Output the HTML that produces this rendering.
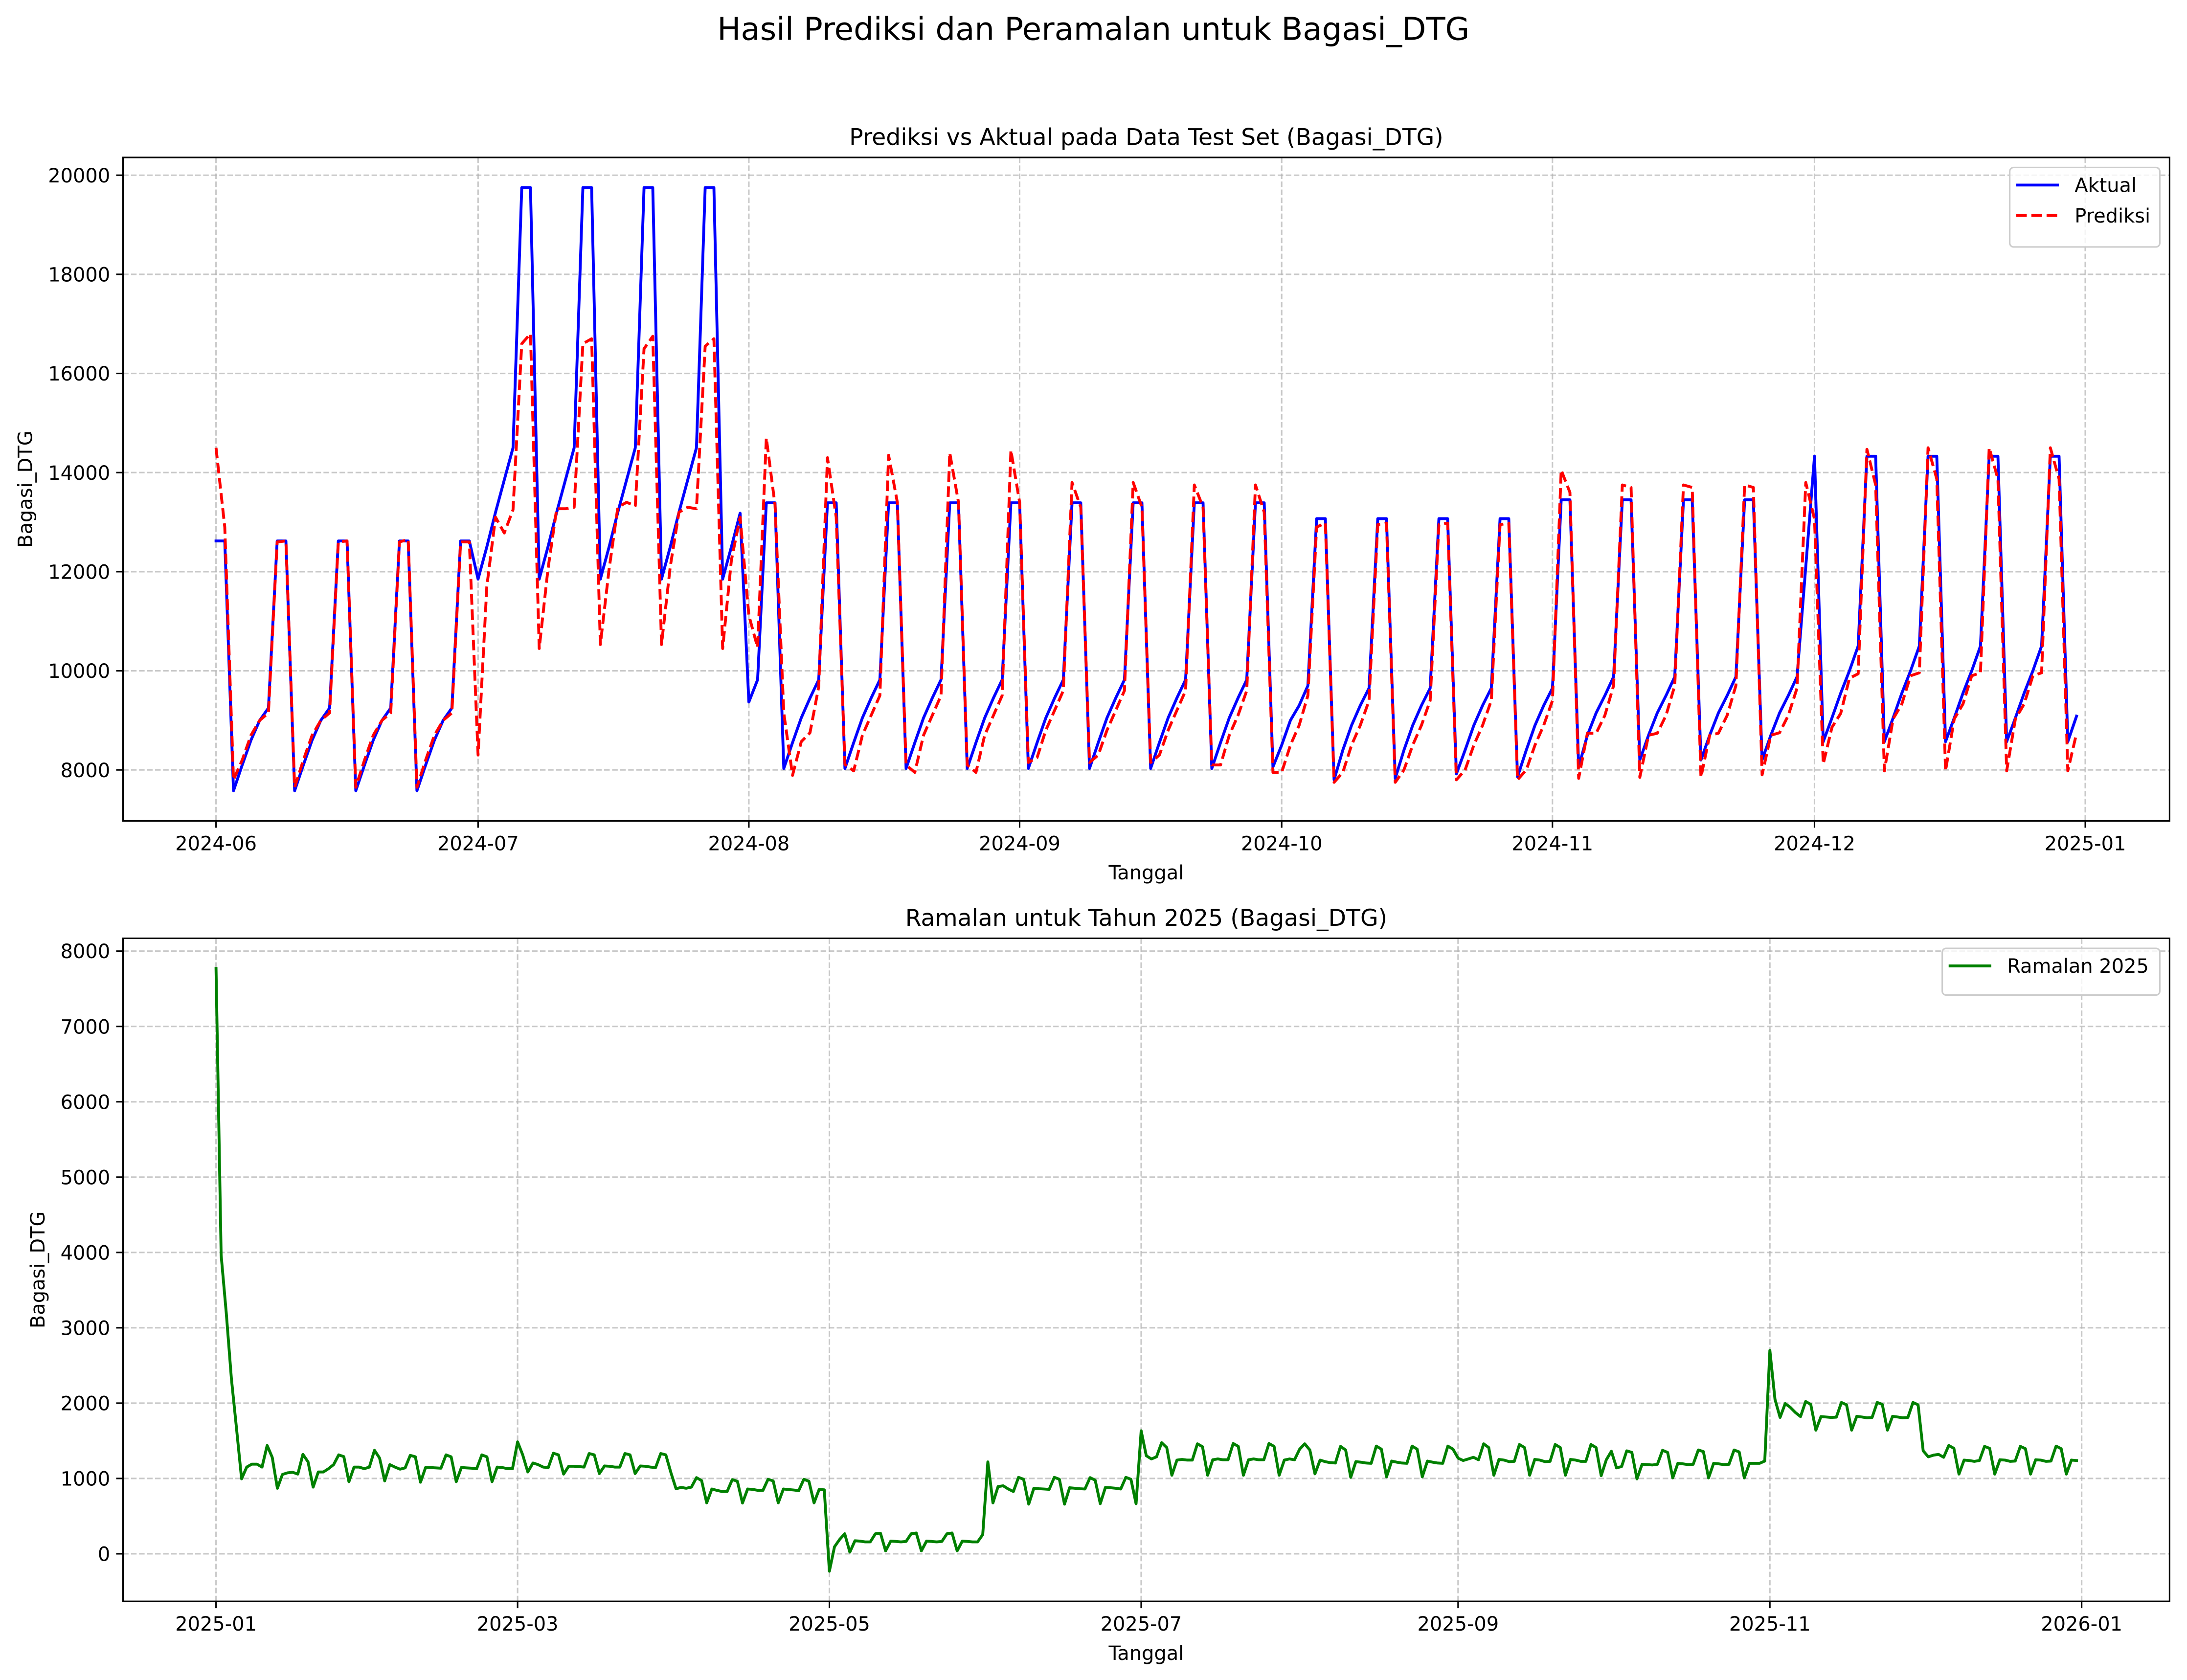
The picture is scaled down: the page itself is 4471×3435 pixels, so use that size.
<!DOCTYPE html>
<html>
<head>
<meta charset="utf-8">
<style>
html,body{margin:0;padding:0;background:#fff;}
svg{display:block;}
text{font-family:"DejaVu Sans","Liberation Sans",sans-serif;fill:#000;}
</style>
</head>
<body>
<svg id="fig" xmlns="http://www.w3.org/2000/svg" width="4471" height="3435" viewBox="0 0 1568.2 1204.8">
<rect x="0" y="0" width="1568.2" height="1204.8" fill="#fff"/>
<text x="784" y="28.6" font-size="22.5" text-anchor="middle">Hasil Prediksi dan Peramalan untuk Bagasi_DTG</text>
<g id="top"></g>
<g id="bot"></g>
</svg>
<script>
// ---------- Top chart data (daily, 2024-06-01 .. 2024-12-31) ----------
const topStart = Date.UTC(2024,5,1);
const topTicks = ["2024-06","2024-07","2024-08","2024-09","2024-10","2024-11","2024-12","2025-01"];
const topYTicks = [8000,10000,12000,14000,16000,18000,20000];
const aktual = [
12620,12620,
7580,8100,8600,9000,9250,12620,12620,
7580,8100,8600,9000,9250,12620,12620,
7580,8100,8600,9000,9250,12620,12620,
7580,8100,8600,9000,9250,12620,12620,
11850,12500,13200,13850,14500,19750,19750,
11850,12500,13200,13850,14500,19750,19750,
11850,12500,13200,13850,14500,19750,19750,
11850,12500,13200,13850,14500,19750,19750,
11850,12500,13180,9370,9820,13390,13390,
8030,8550,9050,9450,9820,13390,13390,
8030,8550,9050,9450,9820,13390,13390,
8030,8550,9050,9450,9820,13390,13390,
8030,8550,9050,9450,9820,13390,13390,
8030,8550,9050,9450,9820,13390,13390,
8030,8550,9050,9450,9820,13390,13390,
8030,8550,9050,9450,9820,13390,13390,
8030,8550,9050,9450,9820,13390,13390,
8060,8500,9000,9300,9700,13070,13070,
7800,8400,8900,9300,9650,13070,13070,
7830,8400,8900,9300,9650,13070,13070,
7920,8400,8900,9300,9650,13070,13070,
7860,8400,8900,9300,9650,13450,13450,
8060,8700,9150,9500,9880,13450,13450,
8200,8700,9150,9500,9880,13450,13450,
8200,8700,9150,9500,9880,13450,13450,
8200,8700,9150,9500,9880,12100,14330,
8570,9050,9550,10000,10500,14330,14330,
8570,9050,9550,10000,10500,14330,14330,
8570,9050,9550,10000,10500,14330,14330,
8570,9050,9550,10000,10500,14330,14330,
8570,9085];
const prediksi = [
14500,12900,
7800,8200,8700,9000,9150,12600,12620,
7650,8200,8700,9000,9150,12600,12620,
7650,8200,8700,9000,9150,12600,12650,
7650,8200,8700,9000,9150,12600,12600,
8300,11700,13100,12780,13250,16600,16800,
10450,12050,13270,13270,13300,16600,16700,
10530,12050,13300,13400,13330,16500,16750,
10530,12100,13200,13300,13270,16550,16700,
10450,12230,13100,11120,10470,14700,13340,
9150,7890,8570,8750,9680,14300,13100,
8110,7980,8700,9100,9500,14350,13400,
8100,7950,8700,9100,9500,14400,13400,
8100,7950,8700,9100,9500,14450,13400,
8150,8250,8800,9200,9600,13800,13300,
8150,8300,8800,9200,9600,13800,13300,
8150,8300,8800,9200,9600,13750,13300,
8100,8100,8700,9100,9600,13750,13200,
7950,7950,8500,8900,9500,12900,12980,
7750,7950,8500,8900,9400,12950,12980,
7750,8000,8500,8900,9400,12950,12980,
7800,8000,8500,8900,9400,12950,12980,
7800,8000,8500,8900,9400,14050,13600,
7830,8740,8740,9100,9700,13750,13700,
7850,8700,8740,9100,9700,13750,13700,
7850,8700,8740,9100,9700,13750,13700,
7900,8700,8750,9100,9650,13800,13060,
8120,8860,9140,9850,9940,14470,13750,
7980,9030,9330,9900,9960,14500,13870,
7980,9030,9330,9900,9960,14500,13870,
7980,9030,9330,9900,9960,14500,13870,
7980,8740];

// ---------- Bottom chart data (daily, 2025-01-01 .. 2025-12-31) ----------
const botStart = Date.UTC(2025,0,1);
const botTicks = ["2025-01","2025-03","2025-05","2025-07","2025-09","2025-11","2026-01"];
const botYTicks = [0,1000,2000,3000,4000,5000,6000,7000,8000];
const ramalan = [
7770,3965,3200,2330,1670,995,
1151,1190,1190,1151,
1438,1280,870,1054,1075,1082,1058,
1320,1220,885,1086,1086,1130,1183,
1313,1290,957,1151,1151,1130,1151,
1374,1270,968,1184,1151,1123,1140,
1307,1287,950,1145,1145,1140,1136,
1313,1287,957,1145,1140,1136,1130,
1313,1287,957,1151,1145,1130,1130,
1486,1313,1086,1205,1184,1151,1145,
1335,1313,1058,1162,1162,1158,1151,
1331,1313,1065,1166,1162,1151,1151,
1331,1313,1065,1166,1162,1151,1145,
1331,1313,1076,864,881,870,885,
1011,972,676,860,842,827,827,
985,963,674,860,855,842,842,
989,968,676,860,853,847,838,
989,963,676,855,849,
-231,93,190,266,22,173,168,
158,158,266,272,39,168,164,
158,164,266,276,39,168,164,
158,164,266,276,39,168,164,
158,158,255,
1220,676,892,903,860,827,1015,
989,659,870,864,860,855,1015,
989,659,877,870,864,860,1011,
978,665,881,877,870,860,1015,
989,665,
1633,1302,1259,1287,1475,1410,1043,
1244,1253,1244,1244,1460,1421,1043,
1248,1259,1248,1248,1464,1426,1043,
1248,1259,1248,1248,1464,1426,1043,
1244,1259,1248,1389,1460,1378,1061,
1244,1223,1210,1205,1426,1378,1015,
1223,1216,1205,1201,1430,1389,1022,
1231,1216,1205,1201,1430,1389,1022,
1231,1216,1205,1201,1430,1389,
1270,1238,1259,1281,1248,1460,1410,
1043,1253,1244,1223,1227,1451,1410,
1043,1253,1244,1223,1227,1451,1410,
1043,1253,1244,1227,1227,1451,1410,
1037,1248,1361,1140,1158,1367,1346,
994,1188,1184,1179,1188,1374,1346,
1007,1201,1194,1184,1188,1378,1356,
1007,1201,1194,1184,1188,1378,1352,
1007,1201,1201,1201,1231,
2700,2050,1810,1994,1944,1875,1821,
2022,1983,1641,1821,1816,1810,1814,
2009,1978,1641,1825,1816,1805,1810,
2009,1983,1641,1825,1816,1805,1810,
2009,1978,
1367,1287,1309,1320,1281,1438,1400,
1058,1244,1238,1227,1238,1426,1400,
1058,1248,1244,1227,1231,1426,1395,
1058,1248,1244,1227,1231,1430,1395,
1058,1244,1238];

const NS = "http://www.w3.org/2000/svg";
const DAY = 86400000;
function mk(tag, attrs, parent){
  const e = document.createElementNS(NS, tag);
  for (const k in attrs) e.setAttribute(k, attrs[k]);
  if (parent) parent.appendChild(e);
  return e;
}
function tickDay(label, start){
  const p = label.split("-");
  return (Date.UTC(+p[0], +p[1]-1, 1) - start)/DAY;
}

function drawAxes(g, o){
  const L = 88.2, R = 1555.7, T = o.top, B = o.bottom;
  const nDays = o.series[0].vals.length;
  const span = nDays - 1;
  const xmin = -0.05*span, xmax = span*1.05;
  let vmin = Infinity, vmax = -Infinity;
  o.series.forEach(s => s.vals.forEach(v => { if (v<vmin) vmin=v; if (v>vmax) vmax=v; }));
  const r = vmax - vmin;
  const ymin = vmin - 0.05*r, ymax = vmax + 0.05*r;
  const xs = d => L + (d - xmin)/(xmax - xmin)*(R - L);
  const ys = v => B - (v - ymin)/(ymax - ymin)*(B - T);

  // grid + ticks
  o.xticks.forEach(lbl => {
    const d = tickDay(lbl, o.start);
    const x = xs(d);
    const gl = mk("line", {x1:x, x2:x, y1:T, y2:B, stroke:"#b0b0b0", "stroke-opacity":"0.7", "stroke-width":"1.09", "stroke-dasharray":"4.0 1.75"}, g);
    
    
    const tk = mk("line", {x1:x, x2:x, y1:B, y2:B+4.9, stroke:"#000", "stroke-width":"1.09"}, g);
    
    
    const t = mk("text", {x:x, y:B+21, "font-size":"14", "text-anchor":"middle"}, g);
    t.textContent = lbl;
    
    
  });
  o.yticks.forEach(v => {
    const y = ys(v);
    const gl = mk("line", {x1:L, x2:R, y1:y, y2:y, stroke:"#b0b0b0", "stroke-opacity":"0.7", "stroke-width":"1.09", "stroke-dasharray":"4.0 1.75"}, g);
    
    
    const tk = mk("line", {x1:L-4.9, x2:L, y1:y, y2:y, stroke:"#000", "stroke-width":"1.09"}, g);
    
    
    const t = mk("text", {x:L-9.2, y:y+5.1, "font-size":"14", "text-anchor":"end"}, g);
    t.textContent = String(v);
    
    
  });

  // series
  o.series.forEach(s => {
    let d = "";
    s.vals.forEach((v,i) => { d += (i ? "L" : "M") + xs(i).toFixed(2) + " " + ys(v).toFixed(2); });
    const attrs = {d:d, fill:"none", stroke:s.color, "stroke-width":"2.05", "stroke-linejoin":"round", "stroke-linecap": s.dash ? "butt" : "square"};
    if (s.dash) attrs["stroke-dasharray"] = s.dash;
    const p = mk("path", attrs, g);
    
    
  });

  // frame
  const fr = mk("rect", {x:L, y:T, width:R-L, height:B-T, fill:"none", stroke:"#000", "stroke-width":"1.09"}, g);
  
  

  // titles
  const tt = mk("text", {x:(L+R)/2, y:T-9, "font-size":"16.6", "text-anchor":"middle"}, g);
  tt.textContent = o.title;
  
  
  const xl = mk("text", {x:(L+R)/2, y:B+42, "font-size":"14", "text-anchor":"middle"}, g);
  xl.textContent = "Tanggal";
  
  
  const yl = mk("text", {x:0, y:0, "font-size":"14", "text-anchor":"middle", transform:"translate("+o.ylabX+","+((T+B)/2)+") rotate(-90)"}, g);
  yl.textContent = "Bagasi_DTG";
  
  

  // legend
  const lg = mk("g", {}, g);
  
  
  const lw = o.legendW, lx = R - 7 - lw, ly = T + 7.2;
  const lh = 10 + 23.5*o.series.length;
  mk("rect", {x:lx, y:ly, width:lw, height:lh, rx:"2.8", fill:"#fff", "fill-opacity":"0.8", stroke:"#cccccc", "stroke-width":"1.09"}, lg);
  o.series.forEach((s,i) => {
    const cy = ly + 12.6 + 21.8*i;
    const ent = mk("g", {}, lg);
    
    
    const la = {x1:lx+4.6, x2:lx+35.2, y1:cy, y2:cy, stroke:s.color, "stroke-width":"2.05"};
    if (s.dash) la["stroke-dasharray"] = s.dash;
    mk("line", la, ent);
    const t = mk("text", {x:lx+46.5, y:cy+5, "font-size":"14"}, ent);
    t.textContent = s.label;
  });
}

drawAxes(document.getElementById("top"), {
  top:112.9, bottom:588.7, start:topStart, xticks:topTicks, yticks:topYTicks,
  title:"Prediksi vs Aktual pada Data Test Set (Bagasi_DTG)", ylabX:23, legendW:107.6,
  series:[
    {name:"aktual-line", label:"Aktual", vals:aktual, color:"#0000ff"},
    {name:"prediksi-line", label:"Prediksi", vals:prediksi, color:"#ff0000", dash:"7.6 3.3"}
  ]
});
drawAxes(document.getElementById("bot"), {
  top:672.9, bottom:1148.4, start:botStart, xticks:botTicks, yticks:botYTicks,
  title:"Ramalan untuk Tahun 2025 (Bagasi_DTG)", ylabX:32, legendW:156,
  series:[
    {name:"ramalan-2025-line", label:"Ramalan 2025", vals:ramalan, color:"#008000"}
  ]
});
</script>
</body>
</html>
